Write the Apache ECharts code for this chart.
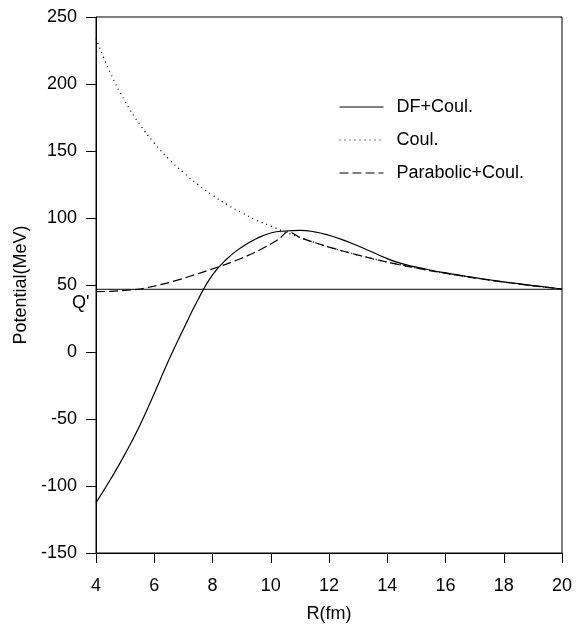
<!DOCTYPE html>
<html>
<head>
<meta charset="utf-8">
<script src="https://cdn.jsdelivr.net/npm/echarts@6/dist/echarts.min.js"></script>
<style>
  html, body { margin: 0; padding: 0; background: #fff; }
  #chart { width: 577px; height: 634px; }
</style>
</head>
<body>
<div id="chart"></div>
<script>
// R (fm) grid shared by the curves
var rValues = [4, 4.5, 5, 5.5, 6, 6.5, 7, 7.5, 8, 8.5, 9, 9.5, 10, 10.5, 11, 11.5, 12, 12.5,
               13, 13.5, 14, 14.5, 15, 15.5, 16, 16.5, 17, 17.5, 18, 18.5, 19, 19.5, 20];

// double folding + Coulomb (MeV)
var dfCoul = [-112.4, -95, -76, -55, -31, -6, 17, 39, 57.5, 69.6, 78.2, 84.5, 88.8, 90.3, 90.7, 89.7,
              87.1, 83.5, 79.1, 74.4, 69.7, 65.9, 63.3, 61, 59, 57.2, 55.5, 53.9, 52.4, 51, 49.6, 48.3, 47];

// pure Coulomb (MeV)
var coul = [234, 208, 187, 170, 156, 144, 134, 125, 117, 110, 104, 98.5, 94, 89.5, 85.5, 81.7,
            78.3, 75.2, 72.3, 69.6, 67.1, 64.8, 62.7, 60.6, 58.8, 57, 55.3, 53.7, 52.2, 50.8, 49.5, 48.2, 47];

// parabolic inner part, then Coulomb outside the barrier
var parabR = [4, 4.5, 5, 5.5, 6, 6.5, 7, 7.5, 8, 8.5, 9, 9.5, 10, 10.3, 10.6,
              11, 11.5, 12, 12.5, 13, 13.5, 14, 14.5, 15, 15.5, 16, 16.5, 17, 17.5, 18, 18.5, 19, 19.5, 20];
var parabCoul = [45, 45.3, 45.9, 47, 49.2, 51.8, 55, 58.4, 62, 65.8, 70, 74.8, 80.6, 84.7, 89.9,
                 85.5, 81.7, 78.3, 75.2, 72.3, 69.6, 67.1, 64.8, 62.7, 60.6, 58.8, 57, 55.3, 53.7, 52.2, 50.8, 49.5, 48.2, 47];

// Q value line
var qR = [4, 20];
var qValue = [46.8, 46.8];

var xTicks = [4, 6, 8, 10, 12, 14, 16, 18, 20];
var yTicks = [-150, -100, -50, 0, 50, 100, 150, 200, 250];

function pairs(xs, ys) {
  return xs.map(function (x, i) { return [x, ys[i]]; });
}

var font = "'Liberation Sans', Arial, sans-serif";
var fs = 18;

var myChart = echarts.init(document.getElementById('chart'));
var option = {
  animation: false,
  backgroundColor: '#fff',
  textStyle: { fontFamily: font, color: '#000' },
  grid: {
    left: 96, right: 15, top: 17, bottom: 81,
    outerBoundsMode: 'none',
    containLabel: false,
    show: true, borderColor: '#000', borderWidth: 1
  },
  legend: {
    orient: 'vertical',
    left: 339,
    top: 98,
    padding: 0,
    itemWidth: 44,
    itemHeight: 14,
    itemGap: 15,
    itemStyle: { opacity: 0 },
    lineStyle: { width: 1 },
    textStyle: { fontFamily: font, fontSize: fs, color: '#000', padding: [0, 0, 0, 8] },
    data: ['DF+Coul.', 'Coul.', 'Parabolic+Coul.']
  },
  xAxis: {
    type: 'value',
    min: xTicks[0],
    max: xTicks[xTicks.length - 1],
    interval: 2,
    name: 'R(fm)',
    nameLocation: 'middle',
    nameGap: 52,
    nameTextStyle: { fontFamily: font, fontSize: fs, color: '#000' },
    axisLine: { onZero: false, lineStyle: { color: '#000', width: 1 } },
    axisTick: { inside: false, length: 10, lineStyle: { color: '#000' } },
    axisLabel: { margin: 24, fontFamily: font, fontSize: fs, color: '#000' },
    splitLine: { show: false }
  },
  yAxis: {
    type: 'value',
    min: yTicks[0],
    max: yTicks[yTicks.length - 1],
    interval: 50,
    name: 'Potential(MeV)',
    nameLocation: 'middle',
    nameGap: 62,
    nameTextStyle: { fontFamily: font, fontSize: fs, color: '#000' },
    axisLine: { onZero: false, lineStyle: { color: '#000', width: 1 } },
    axisTick: { inside: false, length: 10, lineStyle: { color: '#000' } },
    axisLabel: { margin: 19, fontFamily: font, fontSize: fs, color: '#000' },
    splitLine: { show: false }
  },
  series: [
    {
      name: 'Q',
      type: 'line',
      data: pairs(qR, qValue),
      symbol: 'none',
      lineStyle: { color: '#000', width: 1 },
      silent: true,
      markPoint: {
        symbol: 'circle',
        symbolSize: 1,
        itemStyle: { color: 'rgba(0,0,0,0)' },
        label: {
          show: true,
          position: 'left',
          distance: 6,
          offset: [0, 14],
          fontFamily: font,
          fontSize: fs,
          color: '#000',
          formatter: "Q'"
        },
        data: [{ coord: [qR[0], qValue[0]] }]
      }
    },
    {
      name: 'Coul.',
      type: 'line',
      data: pairs(rValues, coul),
      symbol: 'none',
      smooth: true,
      itemStyle: { color: '#000' },
      lineStyle: { color: '#000', width: 1.3, type: [1, 4] }
    },
    {
      name: 'Parabolic+Coul.',
      type: 'line',
      data: pairs(parabR, parabCoul),
      symbol: 'none',
      smooth: 0.3,
      itemStyle: { color: '#000' },
      lineStyle: { color: '#000', width: 1.2, type: [9, 4] }
    },
    {
      name: 'DF+Coul.',
      type: 'line',
      data: pairs(rValues, dfCoul),
      symbol: 'none',
      smooth: true,
      itemStyle: { color: '#000' },
      lineStyle: { color: '#000', width: 1.2 }
    }
  ]
};
myChart.setOption(option);
</script>
</body>
</html>
